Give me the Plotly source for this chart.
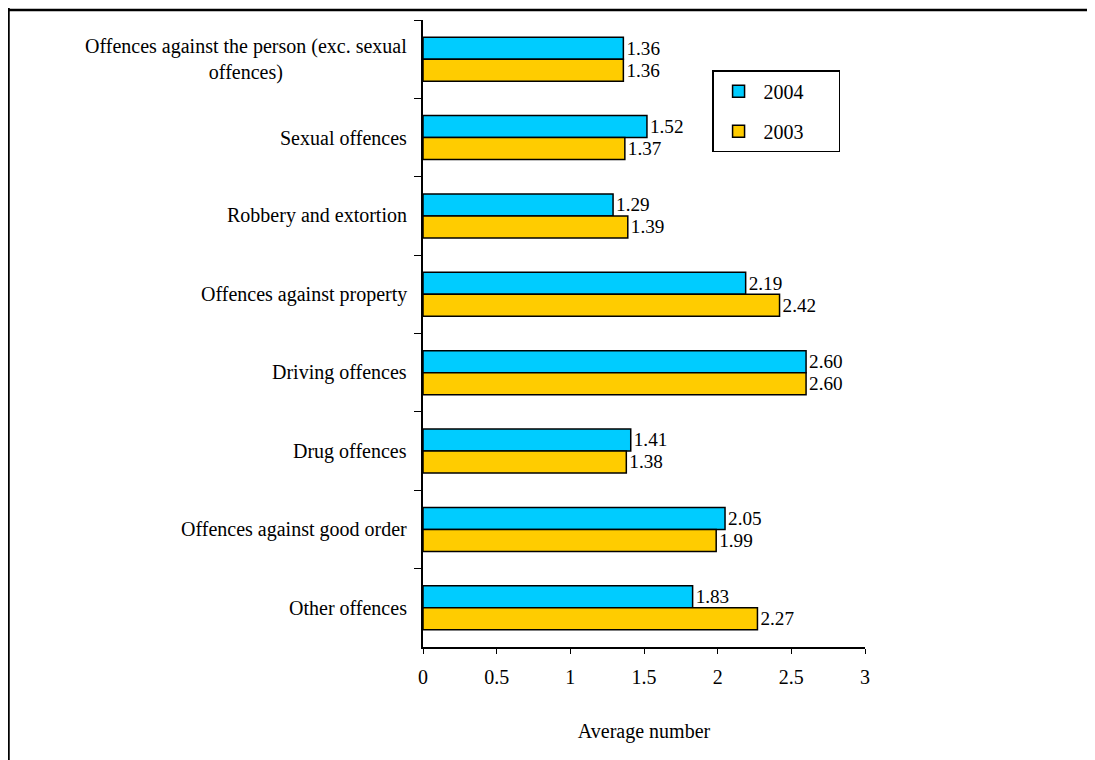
import plotly.graph_objects as go

categories = ["Offences against the person (exc. sexual<br>offences)",
              "Sexual offences",
              "Robbery and extortion",
              "Offences against property",
              "Driving offences",
              "Drug offences",
              "Offences against good order",
              "Other offences"]
values_2004 = [1.36, 1.52, 1.29, 2.19, 2.60, 1.41, 2.05, 1.83]
values_2003 = [1.36, 1.37, 1.39, 2.42, 2.60, 1.38, 1.99, 2.27]
x_ticks = [0, 0.5, 1, 1.5, 2, 2.5, 3]
x_tick_labels = ["0", "0.5", "1", "1.5", "2", "2.5", "3"]

FONT = "Liberation Serif, Times New Roman, serif"
PAD = "\u00a0" * 6  # widens the legend box to the reference size

fig = go.Figure()

fig.add_trace(go.Bar(y=categories,
                     x=values_2004,
                     orientation="h",
                     name="2004" + PAD,
                     legendgroup="a",
                     marker={"color": "#00CCFF", "line": {"color": "black", "width": 1.5}},
                     texttemplate="%{x:.2f}",
                     textposition="outside",
                     cliponaxis=False,
                     textfont={"size": 21, "color": "black"}))

fig.add_trace(go.Bar(y=categories,
                     x=values_2003,
                     orientation="h",
                     name="2003" + PAD,
                     legendgroup="b",
                     marker={"color": "#FFCC00", "line": {"color": "black", "width": 1.5}},
                     texttemplate="%{x:.2f}",
                     textposition="outside",
                     cliponaxis=False,
                     textfont={"size": 21, "color": "black"}))

# category labels as annotations so the wrapped one stays centred
for cat in categories:
    fig.add_annotation(x=-0.032, xref="paper", xanchor="right",
                       y=cat, yref="y", yanchor="middle",
                       text=cat, showarrow=False, align="center",
                       font={"size": 20, "color": "black", "family": FONT})

# outer frame lines (top and left edges of the page)
fig.add_shape(type="line", xref="paper", yref="paper",
              x0=-0.95, x1=1.55, y0=1.016, y1=1.016,
              line={"color": "black", "width": 2.5})
fig.add_shape(type="line", xref="paper", yref="paper",
              x0=-0.9378, x1=-0.9378, y0=1.03, y1=-0.2,
              line={"color": "black", "width": 2.5})

fig.update_layout(width=1087, height=752,
                  margin={"l": 415, "r": 230, "t": 12, "b": 113},
                  paper_bgcolor="white",
                  plot_bgcolor="white",
                  barmode="group",
                  bargap=0.44,
                  bargroupgap=0,
                  font={"family": FONT, "size": 20, "color": "black"},
                  showlegend=True,
                  legend={"x": 0.654, "y": 0.92, "xanchor": "left", "yanchor": "top",
                          "bordercolor": "black", "borderwidth": 1.5,
                          "bgcolor": "white",
                          "font": {"size": 20},
                          "traceorder": "grouped",
                          "tracegroupgap": 11,
                          "itemwidth": 40})

fig.update_xaxes(range=[0, 3],
                 tickvals=x_ticks,
                 ticktext=x_tick_labels,
                 ticks="outside",
                 ticklen=5,
                 tickcolor="black",
                 showline=True,
                 linecolor="black",
                 linewidth=1.5,
                 showgrid=False,
                 zeroline=False,
                 ticklabelstandoff=6,
                 title={"text": "Average number", "standoff": 37,
                        "font": {"size": 20}})

fig.update_yaxes(autorange="reversed",
                 showticklabels=False,
                 ticks="outside",
                 tickson="boundaries",
                 ticklen=7,
                 tickcolor="black",
                 showline=True,
                 linecolor="black",
                 linewidth=1.5,
                 showgrid=False,
                 zeroline=False)

fig.write_html("out.html")
